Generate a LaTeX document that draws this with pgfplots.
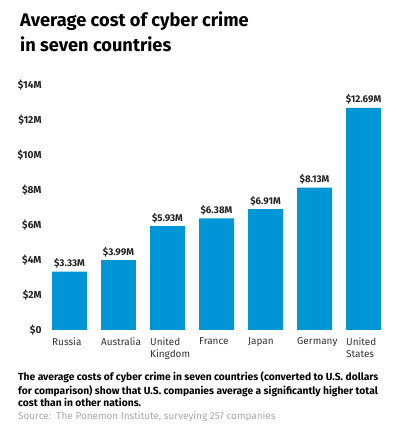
\documentclass[border=0pt]{standalone}
\usepackage{fontspec}
\setmainfont{Fira Sans}
\usepackage{pgfplots}
\pgfplotsset{compat=1.18}
\definecolor{hpblue}{HTML}{0096D6}
\definecolor{txtdark}{HTML}{222222}
\definecolor{catgray}{HTML}{333333}
\definecolor{srcgray}{HTML}{A8A8A8}
\begin{document}
\begin{tikzpicture}[x=1bp,y=1bp]
\useasboundingbox[fill=white] (0,0) rectangle (395,436);
\begin{axis}[
  at={(45bp,106bp)}, anchor=south west,
  scale only axis, width=343bp, height=245bp,
  xmin=-0.5, xmax=6.5, ymin=0, ymax=14,
  axis line style={draw=none}, tick style={draw=none},
  ytick={0,2,4,6,8,10,12,14},
  yticklabels={\$0,\$2M,\$4M,\$6M,\$8M,\$10M,\$12M,\$14M},
  yticklabel style={font=\fontsize{10.2}{11}\selectfont\bfseries, text=txtdark},
  xtick={0,1,2,3,4,5,6},
  xticklabels={Russia,Australia,United\\Kingdom,France,Japan,Germany,United\\States},
  xticklabel style={font=\fontsize{10}{12}\selectfont, text=catgray, anchor=north west, align=left, xshift=-17.5bp, inner xsep=0pt},
  /pgf/number format/assume math mode=true,
  clip=false,
  ybar, bar width=0.714,
  nodes near coords={\$\pgfmathprintnumber[fixed,fixed zerofill,precision=2]{\pgfplotspointmeta}M},
  nodes near coords style={font=\fontsize{9.8}{11}\selectfont\bfseries, text=txtdark, anchor=base, yshift=5bp, inner sep=0pt},
]
\addplot[fill=hpblue, draw=none] coordinates {(0,3.33) (1,3.99) (2,5.93) (3,6.38) (4,6.91) (5,8.13) (6,12.69)};
\end{axis}
\begin{scope}[every node/.style={anchor=base west, inner sep=0pt}]
\node[font=\fontsize{18.3}{22}\selectfont\bfseries, text=black] at (20,409) {Average cost of cyber crime};
\node[font=\fontsize{18.3}{22}\selectfont\bfseries, text=black] at (20,384.3) {in seven countries};
\node[font=\fontsize{10.3}{12}\selectfont\bfseries, text=black] at (18,55) {The average costs of cyber crime in seven countries (converted to U.S. dollars};
\node[font=\fontsize{10.3}{12}\selectfont\bfseries, text=black] at (18,41.7) {for comparison) show that U.S. companies average a significantly higher total};
\node[font=\fontsize{10.3}{12}\selectfont\bfseries, text=black] at (18,29) {cost than in other nations.};
\node[font=\fontsize{10}{12}\selectfont, text=srcgray] at (18,16) {Source:\ \ The Ponemon Institute, surveying 257 companies};
\end{scope}
\end{tikzpicture}
\end{document}
